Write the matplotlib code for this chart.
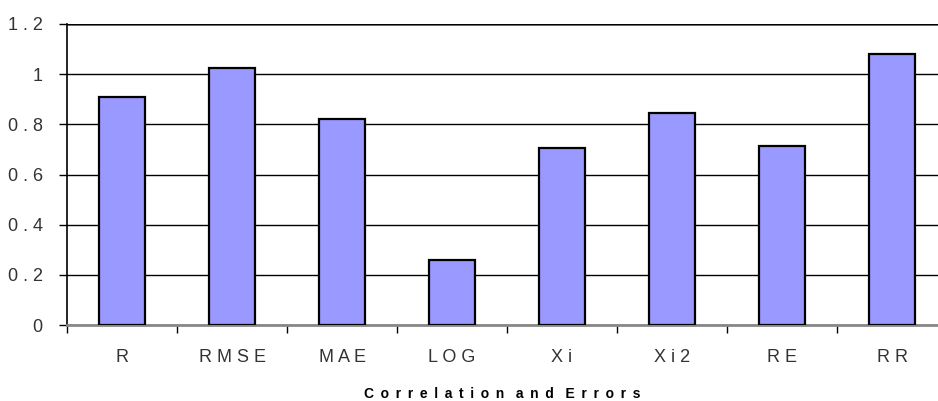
import matplotlib.pyplot as plt

categories = ['R', 'RMSE', 'MAE', 'LOG', 'Xi', 'Xi2', 'RE', 'RR']
values = [0.909, 1.025, 0.82, 0.26, 0.705, 0.845, 0.714, 1.08]
y_ticks = [0, 0.2, 0.4, 0.6, 0.8, 1, 1.2]
y_tick_labels = ['0', '0.2', '0.4', '0.6', '0.8', '1', '1.2']
x_title = 'Correlation and Errors'


def spaced(s, gap=' '):
    # excel-style letter spacing
    return gap.join(s)


plt.rcParams['font.family'] = ['Liberation Sans', 'DejaVu Sans']

fig = plt.figure(figsize=(9.38, 4.01), dpi=100)
W, H = 938, 401
left, right, top, bottom = 67, 938, 24, 325
ax = fig.add_axes([left / W, 1 - bottom / H, (right - left) / W, (bottom - top) / H])

x = list(range(len(categories)))
ax.bar(x, values, width=0.42, color='#9999FF', edgecolor='black', linewidth=1.6, zorder=3)

ax.set_yticks(y_ticks)
ax.set_yticklabels([spaced(t) for t in y_tick_labels], fontsize=13, color='#333333')
ax.yaxis.grid(True, color='black', linewidth=1.0, zorder=0)
ax.axhline(1.2, color='#777777', linewidth=2.0, zorder=1)

# ticks at category boundaries, labels at centers
ax.set_xticks([i - 0.5 for i in range(len(categories) + 1)])
ax.set_xticklabels([])
ax.set_xticks(x, minor=True)
ax.set_xticklabels([spaced(c) for c in categories], minor=True, fontsize=13, color='#333333')
ax.tick_params(axis='x', which='minor', length=0, pad=17.5)
ax.tick_params(axis='x', which='major', length=6, width=1, direction='out')
ax.tick_params(axis='y', length=6, width=1, direction='out', pad=11.5)

cat_w = 110
ax.set_xlim(-0.5, -0.5 + (right - left) / cat_w)
ax.set_ylim(0, 1.2)

title_txt = '   '.join(spaced(w, ' \u2009') for w in x_title.split())
ax.set_xlabel(title_txt, fontsize=10, fontweight='bold', labelpad=15)

for side in ['top', 'right']:
    ax.spines[side].set_visible(False)
ax.spines['left'].set_linewidth(1.2)
ax.spines['bottom'].set_color('#888888')
ax.spines['bottom'].set_linewidth(2)

fig.savefig('out.png', dpi=100)
